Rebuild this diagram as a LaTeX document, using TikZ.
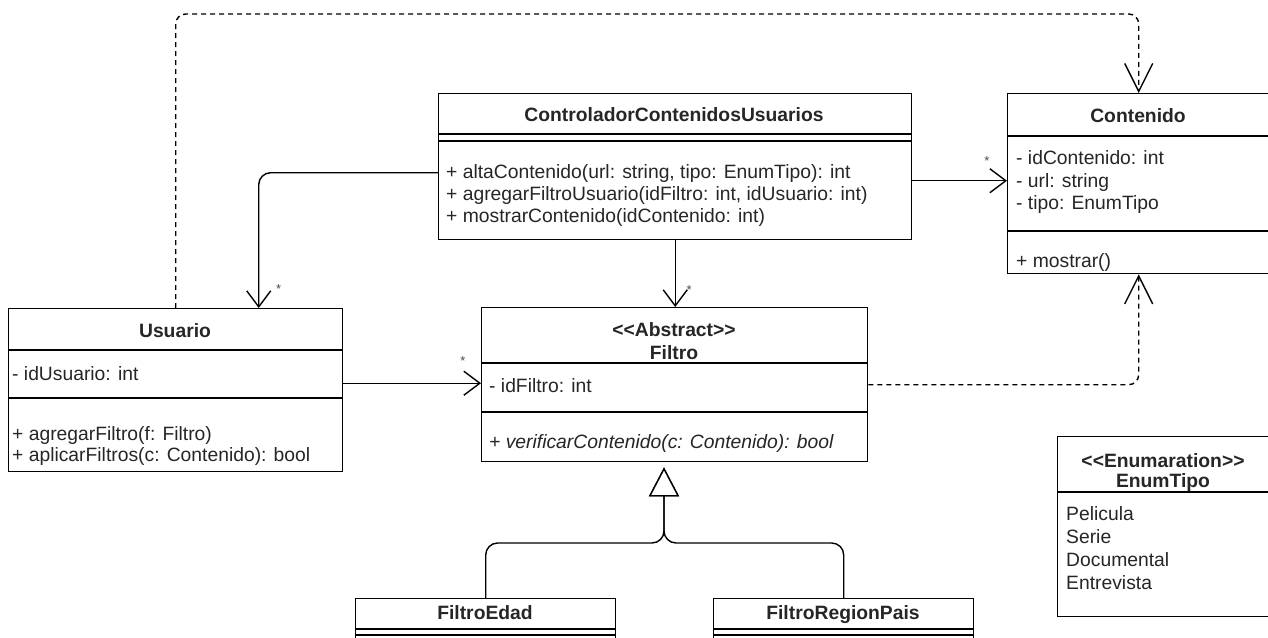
\documentclass[tikz,border=0pt]{standalone}
\usepackage{fontspec}
\setmainfont{Liberation Sans}
\usetikzlibrary{calc,arrows.meta}

\tikzset{
  classbox/.style={draw, line width=1.4pt, fill=white, anchor=north west, inner sep=0pt},
  ctitle/.style={anchor=base, inner sep=0pt, font=\bfseries\fontsize{19.3}{20}\selectfont, text=black!85},
  member/.style={anchor=base west, inner sep=0pt, font=\fontsize{19.3}{22}\selectfont, text=black!85},
  mult/.style={inner sep=0pt, font=\fontsize{13}{13}\selectfont, text=black!70},
  assoc/.style={line width=1.4pt, -{Straight Barb[length=16pt,width=24pt]}, rounded corners=12pt},
  dep/.style={line width=1.4pt, dash pattern=on 5pt off 4pt, -{Straight Barb[length=28pt,width=28pt]}, rounded corners=10pt},
  inh/.style={line width=1.4pt, -{Triangle[open,fill=white,length=29pt,width=30pt]}, rounded corners=12pt},
}

\begin{document}
\begin{tikzpicture}[x=1pt,y=-1pt]
\useasboundingbox (0,0) rectangle (1268,637);
\fill[white] (0,0) rectangle (1268,637);
\clip (0,0) rectangle (1268,637);

% class boxes
\node[classbox, minimum width=473pt, minimum height=146pt] (ctrl) at (438,93) {};
\node[classbox, minimum width=262pt, minimum height=180pt] (cont) at (1007,93) {};
\node[classbox, minimum width=334pt, minimum height=163pt] (usu) at (8,308) {};
\node[classbox, minimum width=386pt, minimum height=154pt] (fil) at (481,307) {};
\node[classbox, minimum width=212pt, minimum height=180pt] (enumt) at (1057,436) {};
\node[classbox, minimum width=260pt, minimum height=80pt] (fedad) at (355,598) {};
\node[classbox, minimum width=260pt, minimum height=80pt] (freg) at (713,598) {};

% compartments
\draw[line width=1.4pt] ($(ctrl.north west)+(0,41)$) -- ($(ctrl.north east)+(0,41)$);
\draw[line width=1.4pt] ($(ctrl.north west)+(0,48)$) -- ($(ctrl.north east)+(0,48)$);
\draw[line width=1.4pt] ($(cont.north west)+(0,43)$) -- ($(cont.north east)+(0,43)$);
\draw[line width=1.4pt] ($(cont.north west)+(0,138)$) -- ($(cont.north east)+(0,138)$);
\draw[line width=1.4pt] ($(usu.north west)+(0,42)$) -- ($(usu.north east)+(0,42)$);
\draw[line width=1.4pt] ($(usu.north west)+(0,90)$) -- ($(usu.north east)+(0,90)$);
\draw[line width=1.4pt] ($(fil.north west)+(0,56)$) -- ($(fil.north east)+(0,56)$);
\draw[line width=1.4pt] ($(fil.north west)+(0,105)$) -- ($(fil.north east)+(0,105)$);
\draw[line width=1.4pt] ($(enumt.north west)+(0,56)$) -- ($(enumt.north east)+(0,56)$);
\draw[line width=1.4pt] ($(fedad.north west)+(0,31)$) -- ($(fedad.north east)+(0,31)$);
\draw[line width=1.4pt] ($(fedad.north west)+(0,37)$) -- ($(fedad.north east)+(0,37)$);
\draw[line width=1.4pt] ($(freg.north west)+(0,31)$) -- ($(freg.north east)+(0,31)$);
\draw[line width=1.4pt] ($(freg.north west)+(0,37)$) -- ($(freg.north east)+(0,37)$);

% names
\node[ctitle] (ctrlt) at (674,121) {ControladorContenidosUsuarios};
\node[ctitle] (contt) at (1138,122) {Contenido};
\node[ctitle] (usut) at (175,337) {Usuario};
\node[ctitle] (filst) at (674,336) {<{}<Abstract>{}>};
\node[ctitle] (filt) at (674,359) {Filtro};
\node[ctitle] (enumst) at (1163,467) {<{}<Enumaration>{}>};
\node[ctitle] (enumtt) at (1163,487) {EnumTipo};
\node[ctitle] (fedadt) at (485,619) {FiltroEdad};
\node[ctitle] (fregt) at (843,619) {FiltroRegionPais};

% members
\foreach \txt [count=\i] in {{+ altaContenido(url: string, tipo: EnumTipo): int},
    {+ agregarFiltroUsuario(idFiltro: int, idUsuario: int)},
    {+ mostrarContenido(idContenido: int)}}
  \node[member] (ctrlm\i) at (446,156+22*\i) {\txt};
\foreach \txt [count=\i] in {{- idContenido: int}, {- url: string}, {- tipo: EnumTipo}}
  \node[member] (conta\i) at (1016,142+22.5*\i) {\txt};
\node[member] (contm1) at (1016,267) {+ mostrar()};
\node[member] (usua1) at (12,380) {- idUsuario: int};
\node[member] (usum1) at (12,440) {+ agregarFiltro(f: Filtro)};
\node[member] (usum2) at (12,461) {+ aplicarFiltros(c: Contenido): bool};
\node[member] (fila1) at (489,392) {- idFiltro: int};
\node[member, font=\itshape\fontsize{19.3}{22}\selectfont] (film1) at (489,448) {+ verificarContenido(c: Contenido): bool};
\foreach \txt [count=\i] in {Pelicula, Serie, Documental, Entrevista}
  \node[member] (enumv\i) at (1066,497+23*\i) {\txt};

% associations
\draw[assoc] ([yshift=-6pt]ctrl.west) -| ([xshift=83pt]usu.north)
  node[mult, at end, xshift=20pt, yshift=19pt] {*};
\draw[assoc] (ctrl.south) -- (ctrl.south |- fil.north)
  node[mult, at end, xshift=14pt, yshift=17pt] {*};
\draw[assoc] ([yshift=-14pt]ctrl.east) -- ([yshift=-14pt]ctrl.east -| cont.west)
  node[mult, at end, xshift=-20pt, yshift=20pt] {*};
\draw[assoc] ([yshift=7pt]usu.east) -- ([yshift=7pt]usu.east -| fil.west)
  node[mult, at end, xshift=-18pt, yshift=22pt] {*};

% dependencies
\coordinate (top) at (600,14);
\draw[dep] (usu.north) |- (top) -| (cont.north);
\draw[dep] (fil.east) -| (cont.south);

% generalization
\coordinate (junc) at (664,543);
\draw[inh] (fedad.north) |- (junc) -- ([yshift=-5pt]junc |- fil.south);
\draw[inh] (freg.north) |- (junc) -- ([yshift=-5pt]junc |- fil.south);
\end{tikzpicture}
\end{document}
